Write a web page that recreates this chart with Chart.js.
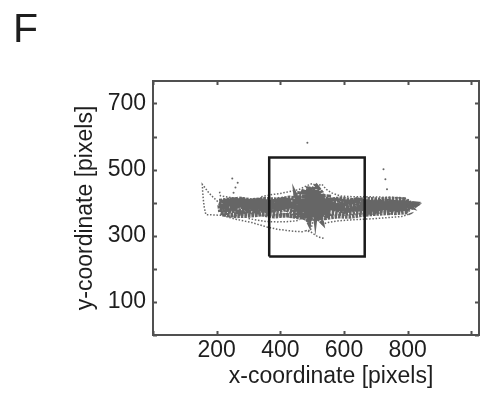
<!DOCTYPE html>
<html>
<head>
<meta charset="utf-8">
<script src="https://cdn.jsdelivr.net/npm/chart.js@4/dist/chart.umd.min.js"></script>
<style>
html, body { margin: 0; padding: 0; background: #fff; }
#wrap { width: 483px; height: 393px; }
</style>
</head>
<body>
<div id="wrap"><canvas id="track" width="483" height="393"></canvas></div>
<script>
// axis ticks (every tick gets a mark, only some get a label)
const xTicks = [0, 200, 400, 600, 800, 1000]
const xLabels = [200, 400, 600, 800]
const yTicks = [0, 100, 200, 300, 400, 500, 600, 700]
const yLabels = [100, 300, 500, 700]

// region of interest
const boxX = [365, 665, 665, 365, 365]
const boxY = [237, 237, 537, 537, 237]

// back-and-forth runs along the tank, where samples pile up
const sweeps = [
	[207, 400], [230, 392], [250, 397], [290, 390], [330, 394], [370, 388], [410, 395], [450, 390], [490, 397],
	[530, 388], [570, 392], [610, 389], [650, 395], [690, 390], [730, 393], [770, 389], [800, 395], [826, 393],
	[815, 385], [780, 380], [740, 383], [700, 378], [660, 384], [620, 377], [580, 383], [540, 376],
	[500, 382], [460, 375], [420, 381], [380, 374], [340, 380], [300, 372], [260, 378], [220, 371],
	[215, 406], [250, 410], [290, 404], [330, 408], [370, 402], [410, 410], [450, 404], [490, 413],
	[530, 406], [570, 409], [610, 403], [650, 407], [690, 401], [730, 406], [770, 400], [805, 404],
	[800, 372], [760, 369], [720, 374], [680, 368], [640, 371], [600, 366], [560, 369], [520, 362],
	[480, 366], [440, 360], [400, 364], [360, 366], [320, 364], [280, 367], [240, 362], [212, 370],
	[210, 385], [250, 382], [290, 400], [330, 385], [370, 398], [410, 384], [450, 400], [490, 383],
	[530, 402], [570, 386], [610, 398], [650, 384], [690, 397], [730, 385], [770, 398], [810, 388],
	[790, 410], [750, 412], [710, 409], [670, 411], [630, 407], [590, 412], [550, 409], [510, 418],
	[470, 411], [430, 415], [390, 409], [350, 411], [310, 407], [270, 412], [230, 405],
	[225, 364], [260, 360], [300, 361], [340, 365], [380, 359], [420, 362], [460, 356], [500, 360],
	[540, 354], [580, 359], [620, 358], [660, 364], [700, 367], [740, 369],
	[760, 392], [720, 396], [680, 387], [640, 398], [600, 386], [560, 396], [520, 391], [480, 399],
	[440, 387], [400, 397], [360, 386], [320, 398], [280, 387], [240, 396], [210, 390],
	[220, 398], [260, 404], [300, 376], [340, 403], [380, 377], [420, 405], [460, 372], [500, 404],
	[540, 375], [580, 402], [620, 374], [660, 400], [700, 375], [740, 401], [780, 378], [820, 398],
	[780, 402], [740, 396], [700, 404], [660, 395], [620, 405], [580, 396], [540, 406], [500, 396],
	[460, 407], [420, 397], [380, 405], [340, 396], [300, 404], [260, 395], [225, 402],
	[230, 380], [270, 393], [310, 381], [350, 392], [390, 379], [430, 394], [470, 380], [510, 393],
	[550, 381], [590, 394], [630, 380], [670, 392], [710, 381], [750, 391], [790, 384],
	[760, 386], [700, 383], [640, 380], [580, 378], [540, 390],
	[530, 430], [520, 442], [510, 360], [500, 446], [495, 345], [488, 450], [480, 352], [475, 438],
	[470, 348], [505, 436], [512, 346], [518, 430], [525, 350], [535, 424], [545, 352], [552, 418],
	[460, 428], [455, 356], [448, 422], [490, 340], [500, 442], [470, 400], [530, 342], [510, 448],
	[485, 428], [465, 436], [540, 405], [495, 395], [520, 380], [480, 420], [470, 365], [515, 405],
	[500, 370], [490, 425], [545, 370], [460, 395], [400, 400], [330, 372], [280, 402], [240, 378],
	[280, 370], [320, 401], [360, 372], [400, 388], [440, 370], [480, 390], [520, 371], [560, 388],
	[600, 372], [640, 390], [680, 371], [720, 388], [760, 376], [800, 391], [760, 405], [700, 392],
	[640, 410], [580, 389], [520, 414], [460, 386], [400, 412], [340, 388], [280, 409], [230, 388],
]

// sparse excursions, drawn as thin dotted trails; null marks a break
const trails = [
	[214, 362], [190, 363], [166, 364], [161, 386], [158, 410], [156, 434], [155, 455],
	[163, 446], [172, 434], [183, 422], [195, 411], [207, 400],
	null,
	[340, 418], [370, 424], [400, 428], [430, 434], [459, 440], [485, 452], [500, 458],
	[515, 450], [530, 456], [545, 440], [560, 430], [590, 420], [630, 418], [670, 418], [710, 417],
	[750, 416], [780, 414], [800, 410], [812, 402], [818, 392], [828, 390], [832, 392], [820, 396],
	[808, 402], [800, 395], [797, 380], [800, 370], [808, 364], [812, 368],
	[780, 358], [740, 355], [700, 352], [660, 350], [620, 348], [580, 345], [550, 340], [530, 335],
	null,
	[230, 358], [260, 350], [285, 345], [310, 340], [335, 333], [360, 326], [390, 320], [420, 316],
	[450, 313], [475, 312],
	null,
	[300, 352], [330, 347], [355, 343], [390, 342], [428, 343], [455, 346],
	null,
	[505, 350], [500, 335], [496, 320], [488, 313], [480, 315], [486, 318], [494, 313], [504, 306],
	[515, 299], [525, 295], [537, 292],
	null,
	[209, 433], [212, 421], [228, 418], [250, 415], [272, 412], [295, 410],
]

// isolated samples away from the main path
const strays = [[485, 581], [724, 501], [730, 471], [735, 441], [249, 473], [266, 460], [259, 446], [253, 430]]

const FONT = '"Liberation Sans", Arial, Helvetica, sans-serif'
const INK = '#1e1e1e'
const GREY = '#666666'

const toXY = (p) => (p ? { x: p[0], y: p[1] } : { x: null, y: null })

// frame, inward ticks, x title and the panel letter
const framePlugin = {
	id: 'frame',
	afterDraw(chart) {
		const { ctx, chartArea: a, scales } = chart
		ctx.save()
		ctx.strokeStyle = '#505050'
		ctx.lineWidth = 2
		ctx.strokeRect(a.left, a.top, a.right - a.left, a.bottom - a.top)
		const tl = 4
		ctx.beginPath()
		xTicks.forEach((v) => {
			const px = Math.round(scales.x.getPixelForValue(v)) + 0.5
			ctx.moveTo(px, a.bottom)
			ctx.lineTo(px, a.bottom - tl)
			ctx.moveTo(px, a.top)
			ctx.lineTo(px, a.top + tl)
		})
		yTicks.forEach((v) => {
			const py = Math.round(scales.y.getPixelForValue(v)) + 0.5
			ctx.moveTo(a.left, py)
			ctx.lineTo(a.left + tl, py)
			ctx.moveTo(a.right, py)
			ctx.lineTo(a.right - tl, py)
		})
		ctx.stroke()

		ctx.fillStyle = INK
		ctx.font = '23px ' + FONT
		ctx.textAlign = 'center'
		ctx.textBaseline = 'middle'
		ctx.fillText('x-coordinate [pixels]', 331, 377)

		ctx.font = '41px ' + FONT
		ctx.textAlign = 'left'
		ctx.textBaseline = 'alphabetic'
		ctx.fillText('F', 13, 42)
		ctx.restore()
	},
}

const ctx = document.getElementById('track').getContext('2d')
new Chart(ctx, {
	type: 'scatter',
	data: {
		datasets: [
			{
				label: 'ROI',
				data: boxX.map((x, i) => ({ x: x, y: boxY[i] })),
				showLine: true,
				borderColor: '#1a1a1a',
				borderWidth: 2.5,
				pointRadius: 0,
			},
			{
				label: 'strays',
				data: strays.map(toXY),
				pointRadius: 1,
				pointBackgroundColor: GREY,
				pointBorderWidth: 0,
			},
			{
				label: 'trails',
				data: trails.map(toXY),
				showLine: true,
				spanGaps: false,
				borderColor: GREY,
				borderWidth: 1.5,
				borderDash: [1.5, 1.7],
				pointRadius: 0,
			},
			{
				label: 'sweeps',
				data: sweeps.map(toXY),
				showLine: true,
				borderColor: GREY,
				borderWidth: 4.5,
				borderDash: [2.5, 1],
				pointRadius: 0,
			},
		],
	},
	options: {
		responsive: false,
		devicePixelRatio: 1,
		animation: false,
		events: [],
		layout: {
			padding: { top: 81, right: 2, left: 0, bottom: 0 },
		},
		scales: {
			x: {
				type: 'linear',
				min: 0,
				max: 1024,
				afterBuildTicks: (s) => {
					s.ticks = xTicks.map((v) => ({ value: v }))
				},
				afterFit: (s) => {
					s.height = 58
				},
				grid: { display: false, drawTicks: false },
				border: { display: false },
				ticks: {
					autoSkip: false,
					maxRotation: 0,
					padding: 2,
					color: INK,
					font: { family: FONT, size: 23 },
					callback: (v) => (xLabels.includes(v) ? String(v) : ''),
				},
			},
			y: {
				type: 'linear',
				min: 0,
				max: 768,
				afterBuildTicks: (s) => {
					s.ticks = yTicks.map((v) => ({ value: v }))
				},
				afterFit: (s) => {
					s.width = 153
				},
				grid: { display: false, drawTicks: false },
				border: { display: false },
				title: {
					display: true,
					text: 'y-coordinate [pixels]',
					color: INK,
					font: { family: FONT, size: 23 },
					padding: { top: 72, bottom: 0 },
				},
				ticks: {
					autoSkip: false,
					padding: 7,
					color: INK,
					font: { family: FONT, size: 23 },
					callback: (v) => (yLabels.includes(v) ? String(v) : ''),
				},
			},
		},
		plugins: {
			legend: { display: false },
			tooltip: { enabled: false },
		},
	},
	plugins: [framePlugin],
})
</script>
</body>
</html>
